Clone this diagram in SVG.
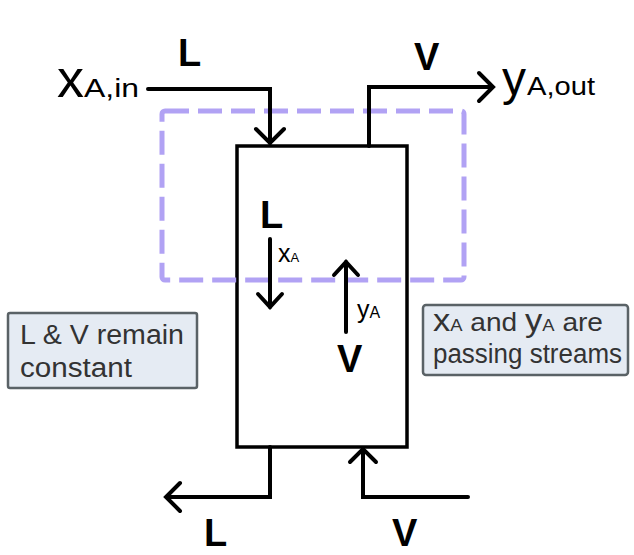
<svg xmlns="http://www.w3.org/2000/svg" width="634" height="555" viewBox="0 0 634 555">
  <defs>
    <style>
      .ln { fill: none; stroke: #000; stroke-width: 4; stroke-linecap: round; stroke-linejoin: miter; }
      .head { fill: none; stroke: #000; stroke-width: 4; stroke-linecap: round; stroke-linejoin: miter; }
      .lbl { font-family: "Liberation Sans", Arial, sans-serif; font-weight: bold; font-size: 38px; fill: #000; }
      .var { font-family: "Liberation Sans", Arial, sans-serif; fill: #000; }
      .note { fill: #e5ebf3; stroke: #5a6266; stroke-width: 2.5; }
      .ntxt { font-family: "Liberation Sans", Arial, sans-serif; font-size: 27px; fill: #333; }
    </style>
  </defs>
  <rect width="634" height="555" fill="#fff"/>

  <g id="column">
    <rect x="237" y="146" width="170" height="301" fill="none" stroke="#000" stroke-width="3.5"/>
  </g>

  <g id="control-volume">
    <rect x="162" y="111" width="302" height="169" rx="3" fill="none" stroke="#b1a2f4" stroke-width="5" stroke-dasharray="24 9"/>
  </g>

  <g id="connectors">
    <path class="ln" d="M148,89 H270 V143"/>
    <path class="head" d="M256,129 L270,143 L284,129"/>
    <path class="ln" d="M369,146 V87 H492"/>
    <path class="head" d="M479,73 L493,87 L479,101"/>
    <path class="ln" d="M270,239 V307"/>
    <path class="head" d="M258,294 L270,307 L282,294"/>
    <path class="ln" d="M346,332 V262"/>
    <path class="head" d="M334,275 L346,262 L358,275"/>
    <path class="ln" d="M270,447 V497 H167"/>
    <path class="head" d="M180,483 L166,497 L180,511"/>
    <path class="ln" d="M468,497 H363 V450"/>
    <path class="head" d="M350,462 L363,449 L376,462"/>
  </g>

  <g id="label-top-L"><text class="lbl" x="178" y="66">L</text></g>
  <g id="label-top-V"><text class="lbl" x="414" y="70">V</text></g>
  <g id="label-mid-L"><text class="lbl" x="260" y="228">L</text></g>
  <g id="label-mid-V"><text class="lbl" x="337" y="372">V</text></g>
  <g id="label-bot-L"><text class="lbl" x="204" y="546">L</text></g>
  <g id="label-bot-V"><text class="lbl" x="392" y="546">V</text></g>

  <g id="xA-in">
    <text class="var" x="57" y="97" font-size="54">x</text>
    <text class="var" x="84" y="97" font-size="26" textLength="55" lengthAdjust="spacingAndGlyphs">A,in</text>
  </g>
  <g id="yA-out">
    <text class="var" x="502" y="95" font-size="48">y</text>
    <text class="var" x="527" y="95" font-size="26" textLength="68" lengthAdjust="spacingAndGlyphs">A,out</text>
  </g>
  <g id="xA"><text class="var" x="278" y="262"><tspan font-size="25">x</tspan><tspan font-size="13">A</tspan></text></g>
  <g id="yA"><text class="var" x="357" y="318"><tspan font-size="25">y</tspan><tspan font-size="16">A</tspan></text></g>

  <g id="note-left">
    <rect class="note" x="8" y="313" width="189" height="75" rx="2"/>
    <text class="ntxt" x="20" y="344" textLength="164" lengthAdjust="spacingAndGlyphs">L &amp; V remain</text>
    <text class="ntxt" x="20" y="377" textLength="112" lengthAdjust="spacingAndGlyphs">constant</text>
  </g>

  <g id="note-right">
    <rect class="note" x="423" y="305" width="205" height="70" rx="3"/>
    <text class="ntxt" x="433" y="331" textLength="170" lengthAdjust="spacingAndGlyphs"><tspan font-size="32">x</tspan><tspan font-size="17">A</tspan><tspan font-size="26"> and </tspan><tspan font-size="32">y</tspan><tspan font-size="17">A</tspan><tspan font-size="26"> are</tspan></text>
    <text class="ntxt" x="433" y="363" font-size="26" textLength="189" lengthAdjust="spacingAndGlyphs">passing streams</text>
  </g>
</svg>
